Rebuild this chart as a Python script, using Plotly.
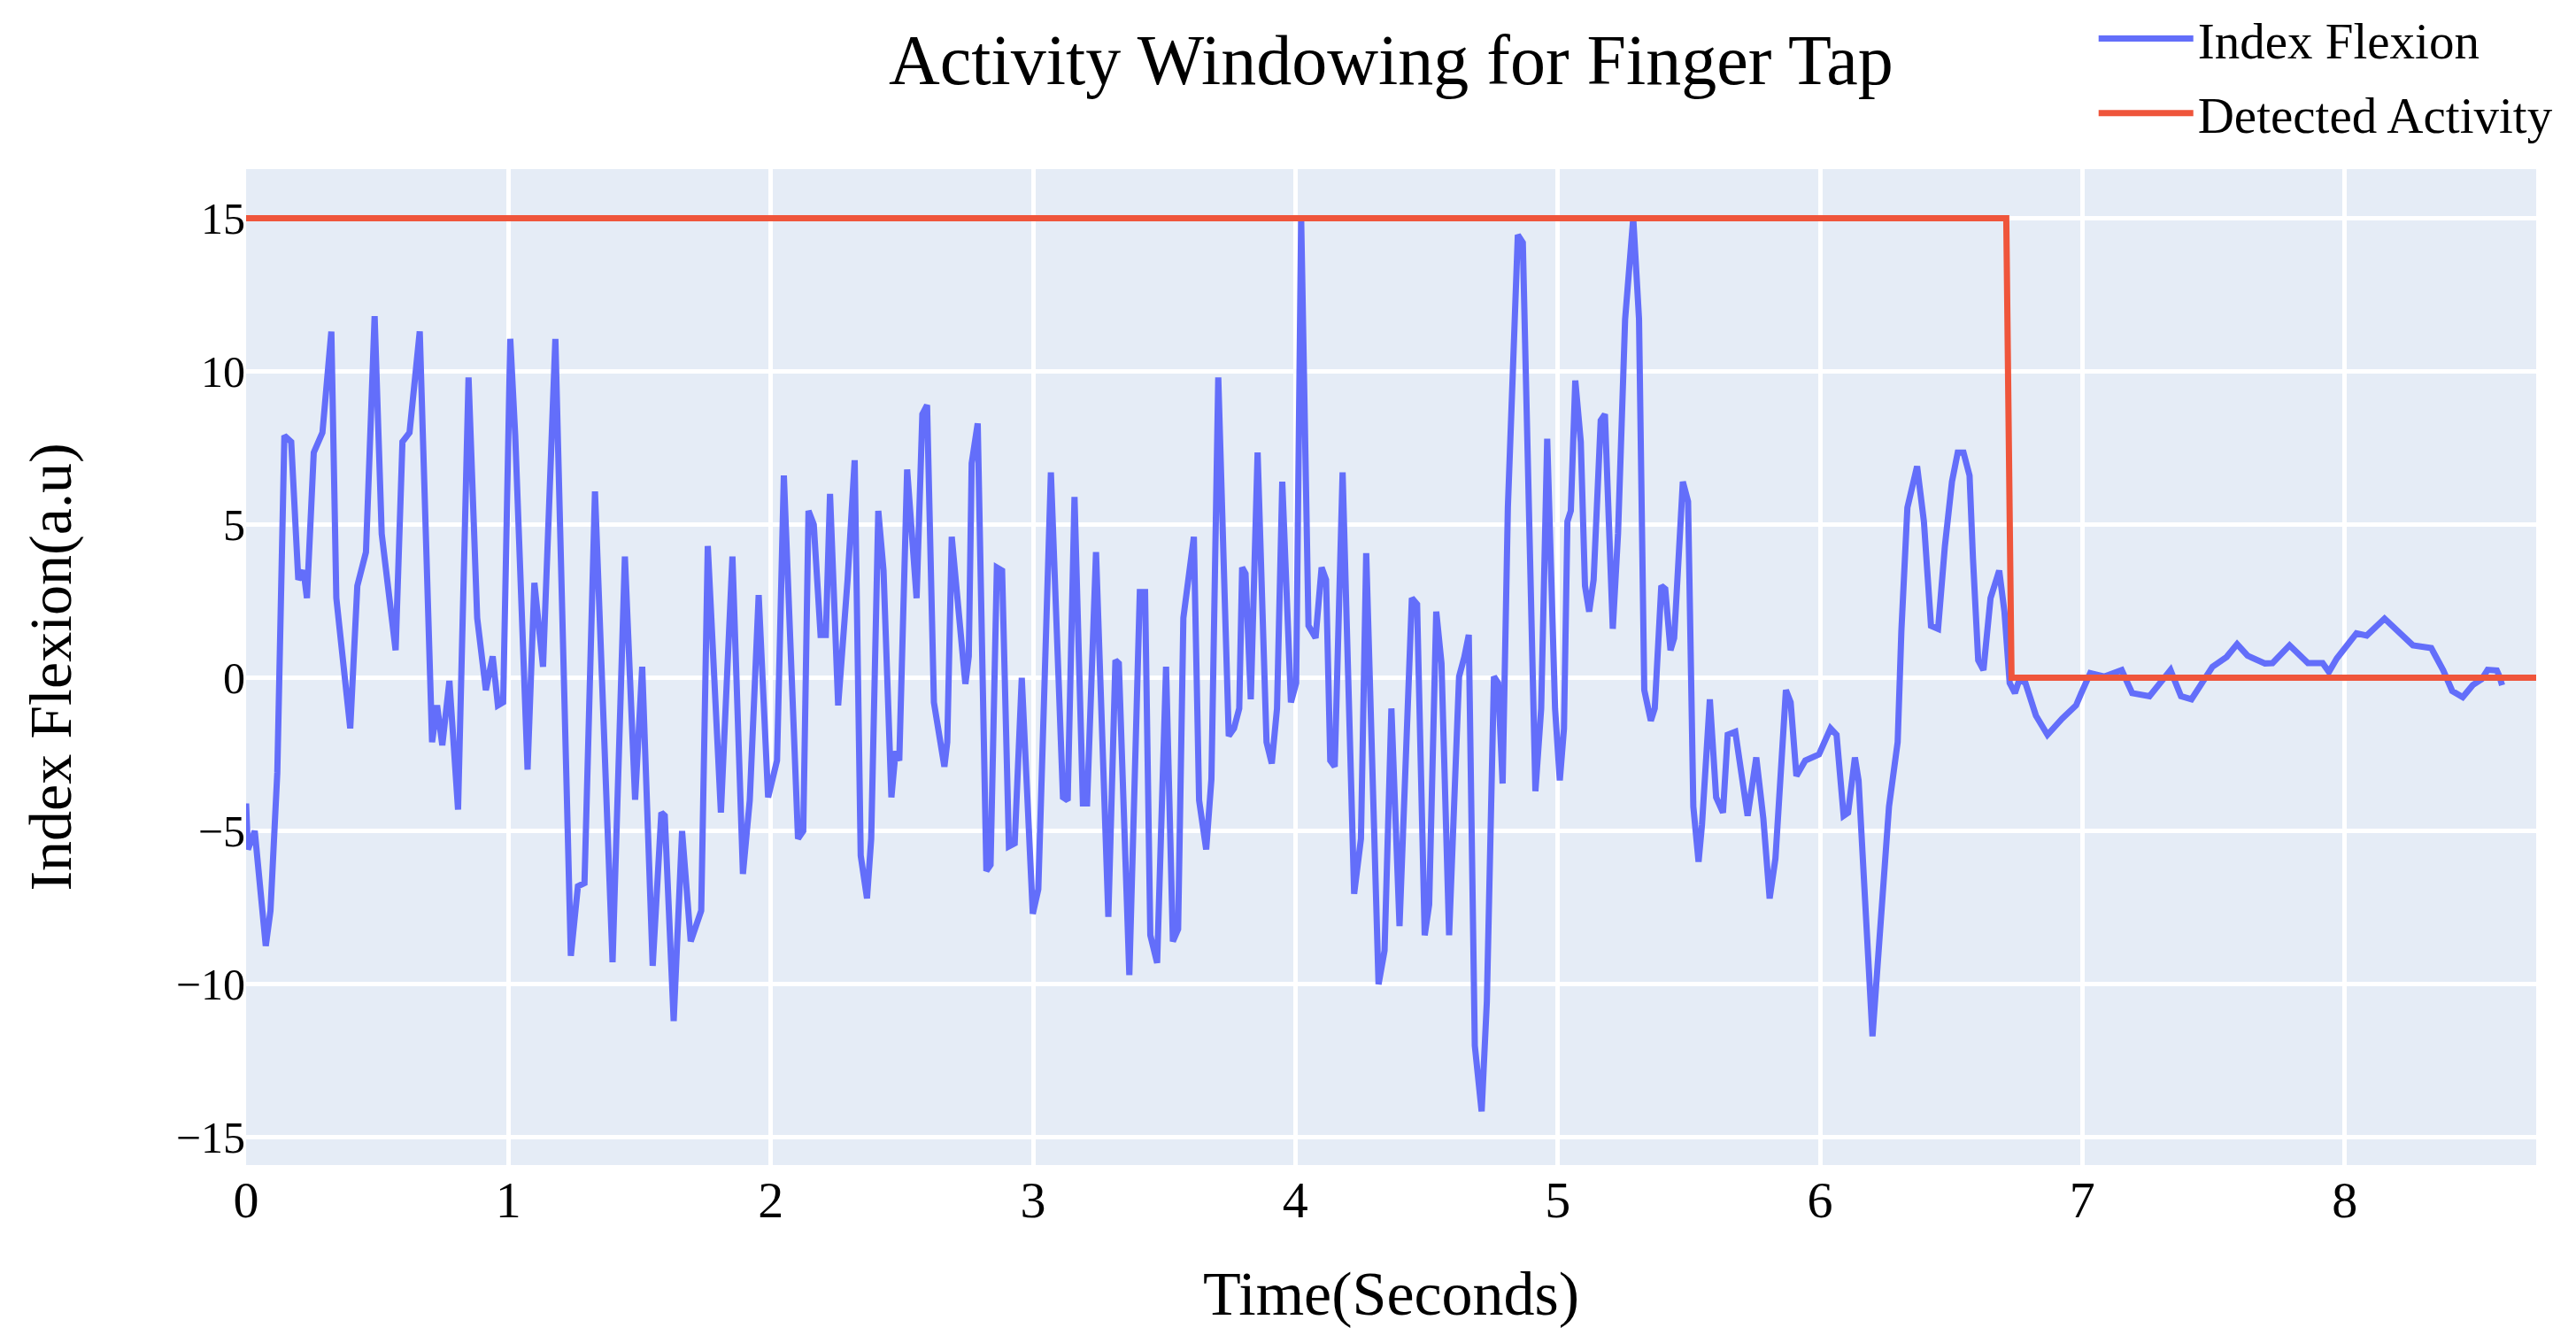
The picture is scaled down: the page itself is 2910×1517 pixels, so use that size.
import plotly.graph_objects as go

# Index flexion signal (seconds, a.u.)
time_s = [
    0.000, 0.007, 0.033, 0.075, 0.093, 0.119, 0.146, 0.172, 0.199, 0.219, 0.232, 0.258, 0.291, 0.325, 0.344,
    0.397, 0.424, 0.457, 0.490, 0.517, 0.570, 0.596, 0.623, 0.662, 0.709, 0.728, 0.748, 0.775, 0.808, 0.848,
    0.881, 0.914, 0.940, 0.960, 0.980, 1.007, 1.026, 1.073, 1.099, 1.132, 1.179, 1.238, 1.265, 1.290, 1.330,
    1.397, 1.444, 1.483, 1.510, 1.550, 1.583, 1.596, 1.630, 1.662, 1.695, 1.735, 1.760, 1.810, 1.854, 1.894,
    1.920, 1.954, 1.990, 2.024, 2.050, 2.104, 2.124, 2.144, 2.164, 2.190, 2.210, 2.226, 2.257, 2.293, 2.320,
    2.343, 2.367, 2.383, 2.410, 2.430, 2.460, 2.476, 2.490, 2.520, 2.556, 2.578, 2.596, 2.622, 2.662, 2.673,
    2.690, 2.742, 2.755, 2.766, 2.789, 2.822, 2.838, 2.862, 2.882, 2.908, 2.930, 2.957, 2.999, 3.020, 3.068,
    3.114, 3.132, 3.158, 3.190, 3.206, 3.240, 3.287, 3.314, 3.327, 3.367, 3.407, 3.427, 3.447, 3.473, 3.507,
    3.533, 3.553, 3.573, 3.613, 3.633, 3.660, 3.680, 3.706, 3.746, 3.766, 3.786, 3.797, 3.810, 3.830, 3.856,
    3.890, 3.910, 3.930, 3.950, 3.983, 4.003, 4.022, 4.050, 4.077, 4.100, 4.117, 4.133, 4.150, 4.180, 4.224,
    4.250, 4.270, 4.317, 4.340, 4.366, 4.397, 4.444, 4.464, 4.493, 4.510, 4.537, 4.557, 4.586, 4.624, 4.644,
    4.661, 4.684, 4.710, 4.730, 4.757, 4.773, 4.790, 4.810, 4.848, 4.867, 4.890, 4.915, 4.937, 4.960, 4.990,
    5.008, 5.024, 5.037, 5.050, 5.067, 5.088, 5.104, 5.120, 5.137, 5.164, 5.180, 5.210, 5.230, 5.257, 5.288,
    5.310, 5.330, 5.355, 5.370, 5.395, 5.410, 5.430, 5.444, 5.477, 5.497, 5.517, 5.537, 5.550, 5.580, 5.604,
    5.630, 5.648, 5.677, 5.724, 5.757, 5.784, 5.808, 5.830, 5.870, 5.888, 5.910, 5.944, 5.996, 6.040, 6.063,
    6.090, 6.107, 6.133, 6.147, 6.200, 6.230, 6.263, 6.296, 6.310, 6.333, 6.370, 6.396, 6.423, 6.450, 6.476,
    6.503, 6.525, 6.547, 6.570, 6.583, 6.603, 6.623, 6.650, 6.683, 6.703, 6.723, 6.743, 6.760, 6.783, 6.823,
    6.867, 6.923, 6.976, 6.996, 7.030, 7.083, 7.150, 7.190, 7.256, 7.336, 7.376, 7.416, 7.456, 7.496, 7.550,
    7.590, 7.630, 7.696, 7.725, 7.790, 7.860, 7.916, 7.940, 7.970, 8.045, 8.084, 8.152, 8.197, 8.260, 8.330,
    8.376, 8.410, 8.450, 8.488, 8.522, 8.545, 8.580, 8.590, 8.600,
]
flexion = [
    -4.1, -5.6, -5.0, -8.75, -7.6, -3.1, 7.9, 7.7, 3.2, 3.5, 2.6, 7.35, 8.0, 11.3, 2.6,
    -1.65, 3.0, 4.1, 11.8, 4.7, 0.9, 7.7, 8.0, 11.3, -2.1, -0.9, -2.2, -0.1, -4.3, 9.8,
    1.95, -0.4, 0.7, -0.9, -0.8, 11.06, 7.9, -3.0, 3.1, 0.36, 11.06, -9.07, -6.8, -6.7, 6.08,
    -9.28, 3.96, -3.98, 0.36, -9.4, -4.4, -4.5, -11.2, -5.0, -8.6, -7.6, 4.3, -4.4, 3.96, -6.4,
    -4.0, 2.7, -3.9, -2.7, 6.6, -5.25, -5.0, 5.45, 5.0, 1.4, 1.4, 6.0, -0.9, 3.2, 7.1,
    -5.8, -7.2, -5.25, 5.45, 3.5, -3.9, -2.4, -2.7, 6.8, 2.6, 8.6, 8.9, -0.8, -2.9, -2.1,
    4.6, -0.2, 0.7, 7.0, 8.3, -6.3, -6.1, 3.6, 3.5, -5.5, -5.4, 0.0, -7.7, -6.9, 6.7,
    -3.9, -4.0, 5.9, -4.1, -4.1, 4.1, -7.8, 0.57, 0.47, -9.7, 2.8, 2.8, -8.4, -9.3, 0.36,
    -8.6, -8.2, 1.95, 4.6, -4.0, -5.6, -3.3, 9.8, -1.9, -1.65, -1.0, 3.6, 3.4, -0.7, 7.35,
    -2.1, -2.8, -1.0, 6.4, -0.8, -0.17, 15.0, 1.7, 1.3, 3.6, 3.2, -2.7, -2.9, 6.7, -7.05,
    -5.25, 4.07, -10.0, -8.9, -1.0, -8.1, 2.6, 2.4, -8.4, -7.4, 2.16, 0.47, -8.4, 0.04, 0.68,
    1.4, -12.0, -14.15, -10.55, 0.04, -0.17, -3.45, 5.55, 14.45, 14.2, 4.5, -3.7, -1.0, 7.8, -1.0,
    -3.35, -1.65, 5.1, 5.45, 9.7, 7.7, 3.0, 2.16, 3.2, 8.4, 8.6, 1.6, 4.7, 11.7, 15.0,
    11.7, -0.4, -1.4, -1.0, 3.0, 2.9, 0.9, 1.3, 6.4, 5.75, -4.2, -6.0, -4.8, -0.7, -3.9,
    -4.4, -1.86, -1.76, -4.5, -2.6, -4.6, -7.2, -5.9, -0.4, -0.8, -3.2, -2.7, -2.5, -1.65, -1.86,
    -4.5, -4.4, -2.6, -3.35, -11.7, -8.4, -4.2, -2.1, 1.5, 5.55, 6.9, 5.1, 1.7, 1.6, 4.3,
    6.4, 7.35, 7.35, 6.6, 3.9, 0.57, 0.25, 2.6, 3.5, 2.16, -0.17, -0.5, -0.06, -0.17, -1.23,
    -1.86, -1.33, -0.9, -0.5, 0.15, 0.04, 0.25, -0.5, -0.6, 0.25, -0.6, -0.7, -0.17, 0.36, 0.68,
    1.1, 0.72, 0.47, 0.48, 1.06, 0.48, 0.48, 0.19, 0.63, 1.45, 1.38, 1.93, 1.55, 1.06, 0.97,
    0.24, -0.43, -0.63, -0.24, -0.05, 0.26, 0.24, 0.05, -0.24,
]

# Detected activity window (step)
activity_time = [0, 6.71, 6.73, 8.73]
activity_level = [15, 15, 0, 0]

FONT = "Liberation Serif"

fig = go.Figure()

fig.add_trace(go.Scatter(
    x=time_s, y=flexion,
    mode='lines', name='Index Flexion', legendgroup='a',
    line=dict(color='#636efa', width=7),
))

fig.add_trace(go.Scatter(
    x=activity_time, y=activity_level,
    mode='lines', name='Detected Activity', legendgroup='b',
    line=dict(color='#EF553B', width=7),
))

fig.update_layout(
    width=2910, height=1517,
    margin=dict(l=278, r=45, t=191, b=201),
    paper_bgcolor='white',
    plot_bgcolor='#E5ECF6',
    font=dict(family=FONT, color='black'),
    title=dict(
        text='Activity Windowing for Finger Tap',
        font=dict(family=FONT, size=80, color='black'),
        x=0.54, xanchor='center', y=0.956, yanchor='middle',
    ),
    legend=dict(
        xref='paper', yref='container',
        x=0.807, xanchor='left', y=1.0, yanchor='top',
        font=dict(family=FONT, size=57, color='black'),
        itemwidth=107, tracegroupgap=7, traceorder='grouped',
        bgcolor='rgba(0,0,0,0)',
    ),
    xaxis=dict(
        title=dict(text='Time(Seconds)', standoff=48,
                   font=dict(family=FONT, size=70, color='black')),
        range=[0, 8.73], dtick=1, tick0=0,
        tickfont=dict(family=FONT, size=58, color='black'),
        gridcolor='white', gridwidth=5, zeroline=False, showline=False,
    ),
    yaxis=dict(
        title=dict(text='Index Flexion(a.u)', standoff=95,
                   font=dict(family=FONT, size=68, color='black')),
        range=[-15.9, 16.6], dtick=5, tick0=0,
        tickfont=dict(family=FONT, size=50, color='black'),
        gridcolor='white', gridwidth=5,
        zeroline=True, zerolinecolor='white', zerolinewidth=5, showline=False,
    ),
)

fig.write_html("out.html", config={'displayModeBar': False},
               post_script="document.body.style.margin='0';")
